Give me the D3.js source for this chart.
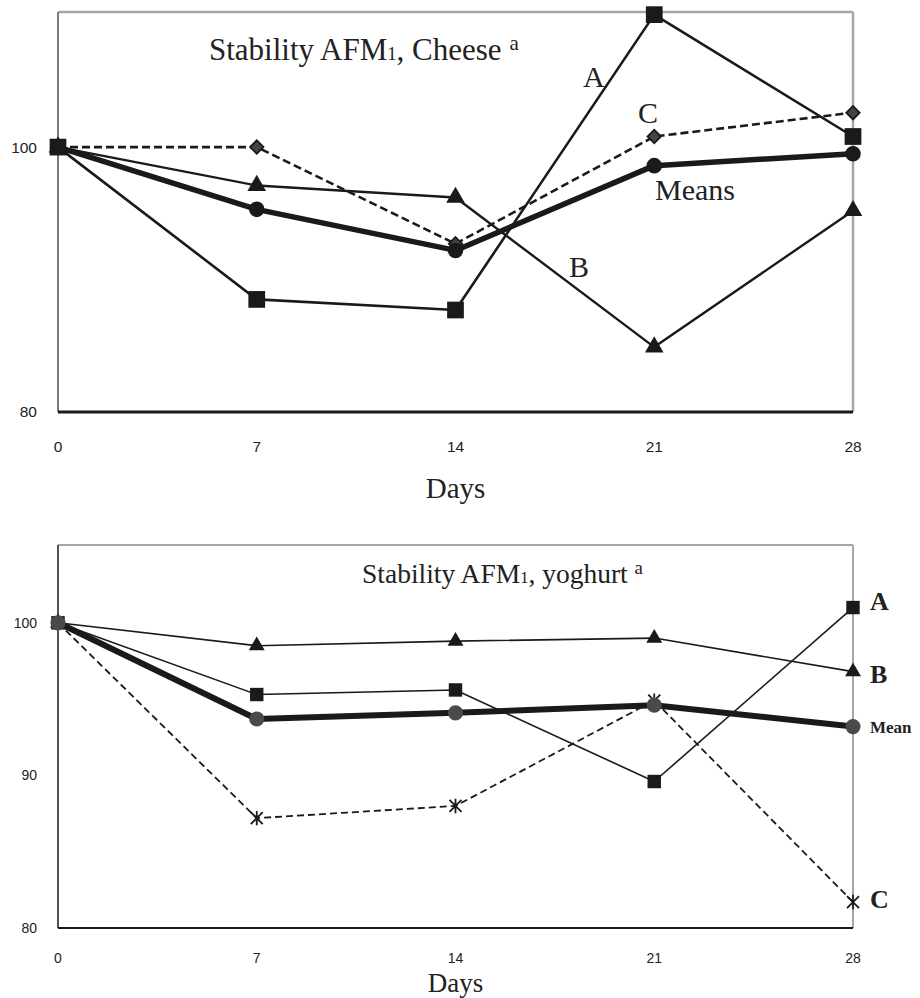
<!DOCTYPE html>
<html>
<head>
<meta charset="utf-8">
<script src="https://cdn.jsdelivr.net/npm/d3@7"></script>
<style>
    body { margin: 0; background: #ffffff; }
    svg { display: block; }
    .tick-label { font-family: "Liberation Sans", Arial, sans-serif; fill: #222; }
    .serif { font-family: "Liberation Serif", "Times New Roman", serif; fill: #222; }
</style>
</head>
<body>
<svg id="chart" width="920" height="998"></svg>
<script>
// Days of storage
const days = [0, 7, 14, 21, 28];
const xTicks = [0, 7, 14, 21, 28];

// Cheese (% of initial AFM1)
const cheeseA = [100, 88.5, 87.7, 110, 100.8];
const cheeseB = [100, 97.1, 96.2, 84.9, 95.2];
const cheeseC = [100, 100, 92.7, 100.8, 102.6];
const cheeseMeans = [100, 95.3, 92.2, 98.6, 99.5];
const cheeseYTicks = [80, 100];

// Yoghurt (% of initial AFM1)
const yoghurtA = [100, 95.3, 95.6, 89.6, 101.0];
const yoghurtB = [100, 98.5, 98.8, 99.0, 96.8];
const yoghurtC = [100, 87.2, 88.0, 94.9, 81.7];
const yoghurtMeans = [100, 93.7, 94.1, 94.6, 93.2];
const yoghurtYTicks = [80, 90, 100];

const svg = d3.select("#chart");

// asterisk marker: X plus vertical bar
function asteriskPath(r) {
    const p = d3.path();
    p.moveTo(-r, -r); p.lineTo(r, r);
    p.moveTo(-r, r); p.lineTo(r, -r);
    p.moveTo(0, -r * 1.2); p.lineTo(0, r * 1.2);
    return p.toString();
}

function drawPanel(opts) {
    const g = svg.append("g");

    const x = d3.scaleLinear()
        .domain([0, 28])
        .range([opts.left, opts.right]);

    const y = d3.scaleLinear()
        .domain(opts.yDomain)
        .range([opts.bottom, opts.top]);

    // frame: top and right grey
    g.append("line")
        .attr("x1", opts.left).attr("x2", opts.right)
        .attr("y1", opts.top).attr("y2", opts.top)
        .attr("stroke", "#a6a6a6").attr("stroke-width", opts.frameWidth);
    g.append("line")
        .attr("x1", opts.right).attr("x2", opts.right)
        .attr("y1", opts.top).attr("y2", opts.bottom)
        .attr("stroke", "#a6a6a6").attr("stroke-width", opts.frameWidth);
    g.append("line")
        .attr("x1", opts.left).attr("x2", opts.left)
        .attr("y1", opts.top).attr("y2", opts.bottom)
        .attr("stroke", opts.leftColor).attr("stroke-width", opts.leftWidth);
    g.append("line")
        .attr("x1", opts.left).attr("x2", opts.right)
        .attr("y1", opts.bottom).attr("y2", opts.bottom)
        .attr("stroke", "#1a1a1a").attr("stroke-width", opts.axisWidth);

    // y tick labels
    g.selectAll(".ytick")
        .data(opts.yTicks)
        .enter()
        .append("text")
        .attr("class", "tick-label")
        .attr("x", opts.left - 21)
        .attr("y", d => y(d))
        .attr("dy", "0.35em")
        .attr("text-anchor", "end")
        .attr("font-size", opts.tickSize)
        .text(d => d);

    // x tick labels
    g.selectAll(".xtick")
        .data(xTicks)
        .enter()
        .append("text")
        .attr("class", "tick-label")
        .attr("x", d => x(d))
        .attr("y", opts.bottom + opts.xTickOffset)
        .attr("text-anchor", "middle")
        .attr("font-size", opts.tickSize)
        .text(d => d);

    // axis title
    g.append("text")
        .attr("class", "serif")
        .attr("x", (opts.left + opts.right) / 2)
        .attr("y", opts.daysY)
        .attr("text-anchor", "middle")
        .attr("font-size", opts.daysSize)
        .text("Days");

    // chart title with subscript and superscript
    const title = g.append("text")
        .attr("class", "serif")
        .attr("x", opts.titleX)
        .attr("y", opts.titleY)
        .attr("font-size", opts.titleSize);
    title.append("tspan").text("Stability AFM");
    title.append("tspan").attr("font-size", opts.titleSize * 0.6).text("1");
    title.append("tspan").text(", " + opts.product + " ");
    title.append("tspan").attr("font-size", opts.titleSize * 0.68).attr("dy", -opts.titleSize * 0.33).text("a");

    const line = d3.line()
        .x((d, i) => x(days[i]))
        .y(d => y(d));

    // series lines and markers
    opts.series.forEach(s => {
        g.append("path")
            .datum(s.values)
            .attr("fill", "none")
            .attr("stroke", "#1a1a1a")
            .attr("stroke-width", s.width)
            .attr("stroke-dasharray", s.dash || null)
            .attr("stroke-linejoin", "round")
            .attr("d", line);
    });

    opts.series.forEach(s => {
        const marks = g.selectAll(null)
            .data(s.values)
            .enter()
            .append("path")
            .attr("transform", (d, i) => `translate(${x(days[i])},${y(d)})` + (s.rotate ? ` rotate(${s.rotate})` : ""));
        if (s.marker === "asterisk") {
            marks.attr("d", asteriskPath(s.size))
                .attr("fill", "none")
                .attr("stroke", "#1a1a1a")
                .attr("stroke-width", 1.8);
        } else {
            marks.attr("d", d3.symbol().type(s.marker).size(s.size)())
                .attr("fill", s.fill)
                .attr("stroke", s.stroke || "none")
                .attr("stroke-width", s.strokeWidth || 0);
        }
    });

    // series labels
    g.selectAll(".series-label")
        .data(opts.labels)
        .enter()
        .append("text")
        .attr("class", "serif")
        .attr("x", d => d.x)
        .attr("y", d => d.y)
        .attr("font-size", d => d.size)
        .attr("font-weight", d => d.bold ? "bold" : "normal")
        .text(d => d.text);
}

// Cheese panel
drawPanel({
    left: 58, right: 853, top: 12, bottom: 412,
    yDomain: [80, 110.2],
    yTicks: cheeseYTicks,
    frameWidth: 2.5, leftColor: "#7a7a7a", leftWidth: 2, axisWidth: 3.2,
    tickSize: 15.5, xTickOffset: 40,
    daysY: 498, daysSize: 29,
    titleX: 209, titleY: 60, titleSize: 31, product: "Cheese",
    series: [
        { values: cheeseC, width: 2.6, dash: "8,4", marker: d3.symbolSquare, rotate: 45, size: 90, fill: "#444", stroke: "#1a1a1a", strokeWidth: 1.8 },
        { values: cheeseB, width: 2.4, marker: d3.symbolTriangle, size: 150, fill: "#1a1a1a" },
        { values: cheeseMeans, width: 5.5, marker: d3.symbolCircle, size: 190, fill: "#1a1a1a" },
        { values: cheeseA, width: 2.6, marker: d3.symbolSquare, size: 280, fill: "#1a1a1a" }
    ],
    labels: [
        { text: "A", x: 583, y: 87, size: 30 },
        { text: "C", x: 638, y: 123, size: 30 },
        { text: "Means", x: 655, y: 200, size: 30 },
        { text: "B", x: 569, y: 277, size: 30 }
    ]
});

// Yoghurt panel
drawPanel({
    left: 58, right: 853, top: 545, bottom: 928,
    yDomain: [80, 105.1],
    yTicks: yoghurtYTicks,
    frameWidth: 2, leftColor: "#1a1a1a", leftWidth: 1.5, axisWidth: 1.8,
    tickSize: 14, xTickOffset: 35,
    daysY: 992, daysSize: 27,
    titleX: 362, titleY: 583, titleSize: 27.5, product: "yoghurt",
    series: [
        { values: yoghurtC, width: 1.8, dash: "7,4", marker: "asterisk", size: 6 },
        { values: yoghurtB, width: 1.6, marker: d3.symbolTriangle, size: 110, fill: "#1a1a1a" },
        { values: yoghurtA, width: 1.6, marker: d3.symbolSquare, size: 180, fill: "#1a1a1a" },
        { values: yoghurtMeans, width: 6, marker: d3.symbolCircle, size: 180, fill: "#4a4a4a" }
    ],
    labels: [
        { text: "A", x: 870, y: 610, size: 26, bold: true },
        { text: "B", x: 870, y: 683, size: 26, bold: true },
        { text: "Mean", x: 870, y: 733, size: 17, bold: true },
        { text: "C", x: 870, y: 908, size: 26, bold: true }
    ]
});
</script>
</body>
</html>
